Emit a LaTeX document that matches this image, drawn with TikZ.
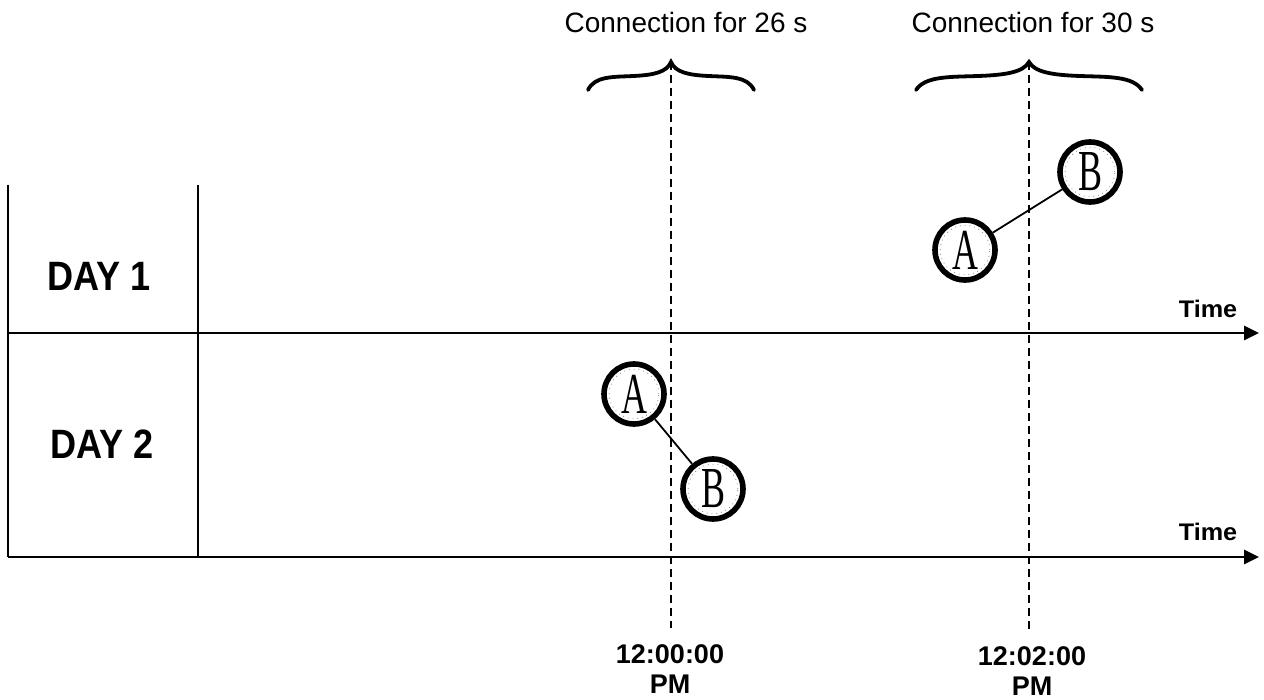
\documentclass[tikz,border=0pt]{standalone}
\usepackage{fontspec}
\setmainfont{Liberation Sans}
\newfontfamily\letterfont{Liberation Serif}
\usetikzlibrary{arrows.meta}

% condensed serif letter inside a party circle
\newcommand\partyglyph[1]{\scalebox{0.62}[1]{\letterfont\fontsize{29}{29}\selectfont #1}}

% curly brace with its tip at (#1,62) and half-width #2
\newcommand\curlybrace[2]{%
  \draw[bracket] ({#1-#2},90)
    .. controls ({#1-0.92*#2},76) and ({#1-0.7*#2},77) .. ({#1-0.45*#2},76)
    .. controls ({#1-0.2*#2},75) and ({#1-0.05*#2},72) .. (#1,62)
    .. controls ({#1+0.05*#2},72) and ({#1+0.2*#2},75) .. ({#1+0.45*#2},76)
    .. controls ({#1+0.7*#2},77) and ({#1+0.92*#2},76) .. ({#1+#2},90);}

\tikzset{
  gridline/.style={line width=0.7pt},
  axis/.style={line width=1.3pt,-{Triangle[length=7.5pt,width=7pt]}},
  marker/.style={line width=0.8pt, dash pattern=on 4pt off 2.5pt},
  bracket/.style={line width=1.9pt, line cap=round},
  party/.style={circle, draw, line width=2.8pt, minimum size=30pt, inner sep=0pt,
    path picture={\draw[gray, dotted, line width=0.4pt]
      (path picture bounding box.center) circle (12.4pt);}},
  link/.style={line width=0.9pt},
  caption/.style={inner sep=0pt, font=\fontsize{14}{16}\selectfont},
  daylabel/.style={inner sep=0pt, font=\bfseries\fontsize{20.5}{24}\selectfont},
  timelabel/.style={inner sep=0pt, font=\bfseries\fontsize{12}{14}\selectfont},
  clock/.style={inner sep=0pt, align=center, font=\bfseries\fontsize{13.5}{15}\selectfont},
}

\begin{document}
\begin{tikzpicture}[x=0.5pt,y=-0.5pt]
\useasboundingbox (0,0) rectangle (1264,700);

% table frame
\draw[gridline] (8,185) -- (8,557);
\draw[gridline] (198,185) -- (198,557);
\coordinate (row1start) at (8,333);
\coordinate (row1end) at (1259,333);
\coordinate (row2start) at (8,557);
\coordinate (row2end) at (1259,557);
\draw[axis] (row1start) -- (row1end);
\draw[axis] (row2start) -- (row2end);

\node[daylabel] (day1) at (99,276) {\scalebox{0.88}[1]{DAY 1}};
\node[daylabel] (day2) at (102,444) {\scalebox{0.88}[1]{DAY 2}};

\node[timelabel] (time1) at (1208,309) {\scalebox{1.05}[1]{Time}};
\node[timelabel] (time2) at (1208,532) {\scalebox{1.05}[1]{Time}};

% connection intervals
\curlybrace{671}{83}
\curlybrace{1029}{113}
\coordinate (tip1) at (671,62);
\coordinate (foot1) at (671,628);
\coordinate (tip2) at (1029,62);
\coordinate (foot2) at (1029,632);
\draw[marker] (tip1) -- (foot1);
\draw[marker] (tip2) -- (foot2);

\node[caption] (cap1) at (686,22) {Connection for 26 s};
\node[caption] (cap2) at (1033,22) {Connection for 30 s};

\node[clock] (clock1) at (670,669) {12:00:00\\PM};
\node[clock] (clock2) at (1032,671) {12:02:00\\PM};

% parties and their connections
\node[party] (a1) at (965,250) {\partyglyph{A}};
\node[party] (b1) at (1090,172) {\partyglyph{B}};
\node[party] (a2) at (634,394) {\partyglyph{A}};
\node[party] (b2) at (713,489) {\partyglyph{B}};
\draw[link] (a1) -- (b1);
\draw[link] (a2) -- (b2);
\end{tikzpicture}
\end{document}
